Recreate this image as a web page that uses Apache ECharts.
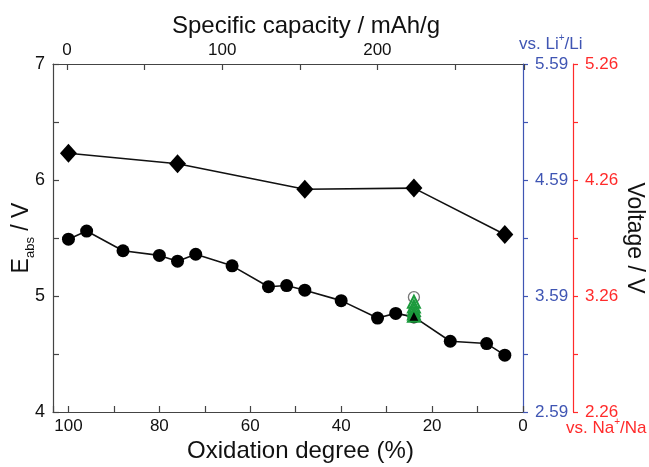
<!DOCTYPE html>
<html>
<head>
<meta charset="utf-8">
<script src="https://cdn.jsdelivr.net/npm/echarts@6/dist/echarts.min.js"></script>
<style>
  html, body { margin: 0; padding: 0; background: #fff; }
  #chart { width: 649px; height: 467px; }
</style>
</head>
<body>
<div id="chart"></div>
<script>
// Diamond series: absolute potential vs oxidation degree
const oxDiamond = [100, 76, 48, 24, 4];
const eDiamond = [6.23, 6.14, 5.92, 5.93, 5.53];

// Circle series
const oxCircle = [100, 96, 88, 80, 76, 72, 64, 56, 52, 48, 40, 32, 28, 24, 16, 8, 4];
const eCircle = [5.49, 5.56, 5.39, 5.35, 5.30, 5.36, 5.26, 5.08, 5.09, 5.05, 4.96, 4.81, 4.85, 4.82, 4.61, 4.59, 4.49];

// Extra measurements at 24 % oxidation
const oxExtra = 24;
const eOpenCircle = [4.99];
const eGreenTriangles = [4.95, 4.91, 4.88, 4.85];
const eFilledTriangle = [4.83];

// Axis ranges and label values
const oxRange = [0, 103.4];
const capRange = [0, 294.5];
const eRange = [4, 7];
const liOffset = 1.41;   // E_abs - V(vs. Li+/Li)
const naOffset = 1.74;   // E_abs - V(vs. Na+/Na)

const FONT = 'Liberation Sans, Arial, Helvetica, sans-serif';
const INK = '#111';
const FRAME = '#444';
const BLUE = '#3f55b3';
const RED = '#ff2b2b';
const GREEN = '#1b9a3c';

const pairs = (xs, ys) => xs.map((x, i) => [x, ys[i]]);
const at = (x, ys) => ys.map(y => [x, y]);

const chart = echarts.init(document.getElementById('chart'), null, { renderer: 'canvas' });

chart.setOption({
  animation: false,
  backgroundColor: '#fff',
  grid: [
    { left: 53, right: 126, top: 64, bottom: 55, containLabel: false, outerBoundsMode: 'none' },
    { left: 67, right: 125, top: 64, bottom: 55, containLabel: false, outerBoundsMode: 'none' }
  ],
  xAxis: [
    {
      gridIndex: 0, type: 'value', position: 'bottom',
      min: oxRange[0], max: oxRange[1], interval: 10, inverse: true,
      axisLine: { onZero: false, lineStyle: { color: FRAME, width: 1.2 } },
      axisTick: { inside: true, length: 6, lineStyle: { color: FRAME, width: 1.2 } },
      axisLabel: {
        color: INK, fontSize: 17, fontFamily: FONT, margin: 6,
        formatter: v => (v % 20 === 0 && v <= 100) ? String(v) : ''
      },
      splitLine: { show: false },
      name: 'Oxidation degree (%)', nameLocation: 'middle', nameGap: 27,
      nameMoveOverlap: false,
      nameTextStyle: { color: INK, fontSize: 24, fontFamily: FONT, padding: [0, 0, 0, 25] }
    },
    {
      gridIndex: 0, type: 'value', position: 'top', min: 0, max: 1,
      axisLine: { show: true, onZero: false, lineStyle: { color: FRAME, width: 1.2 } },
      axisTick: { show: false }, axisLabel: { show: false }, splitLine: { show: false }
    },
    {
      gridIndex: 1, type: 'value', position: 'top',
      min: capRange[0], max: capRange[1], interval: 50,
      axisLine: { show: false, onZero: false },
      axisTick: { inside: true, length: 6, lineStyle: { color: FRAME, width: 1.2 } },
      axisLabel: {
        color: INK, fontSize: 17, fontFamily: FONT, margin: 5,
        formatter: v => (v % 100 === 0) ? String(v) : ''
      },
      splitLine: { show: false }
    }
  ],
  yAxis: [
    {
      gridIndex: 0, type: 'value', position: 'left',
      min: eRange[0], max: eRange[1], interval: 0.5,
      axisLine: { show: true, onZero: false, lineStyle: { color: FRAME, width: 1.2 } },
      axisTick: { show: true, inside: true, length: 6, lineStyle: { color: FRAME, width: 1.2 } },
      axisLabel: {
        color: INK, fontSize: 18, fontFamily: FONT, margin: 8,
        formatter: v => Number.isInteger(v) ? String(v) : ''
      },
      splitLine: { show: false },
      name: '{e|E}{s|abs}{e| / V}', nameLocation: 'middle', nameGap: 16,
      nameMoveOverlap: false,
      nameTextStyle: {
        rich: {
          e: { fontSize: 23, fontFamily: FONT, color: INK, lineHeight: 30, verticalAlign: 'middle' },
          s: { fontSize: 13, fontFamily: FONT, color: INK, lineHeight: 30, verticalAlign: 'bottom' }
        }
      }
    },
    {
      gridIndex: 0, type: 'value', position: 'right', offset: 0,
      min: eRange[0], max: eRange[1], interval: 0.5,
      axisLine: { show: true, onZero: false, lineStyle: { color: BLUE, width: 1.2 } },
      axisTick: { show: true, inside: false, length: 5, lineStyle: { color: BLUE, width: 1.2 } },
      axisLabel: {
        color: BLUE, fontSize: 17, fontFamily: FONT, margin: 12,
        formatter: v => Number.isInteger(v) ? (v - liOffset).toFixed(2) : ''
      },
      splitLine: { show: false }
    },
    {
      gridIndex: 0, type: 'value', position: 'right', offset: 50,
      min: eRange[0], max: eRange[1], interval: 0.5,
      axisLine: { show: true, onZero: false, lineStyle: { color: RED, width: 1.2 } },
      axisTick: { show: true, inside: false, length: 5, lineStyle: { color: RED, width: 1.2 } },
      axisLabel: {
        color: RED, fontSize: 17, fontFamily: FONT, margin: 12,
        formatter: v => Number.isInteger(v) ? (v - naOffset).toFixed(2) : ''
      },
      splitLine: { show: false },
      name: 'Voltage / V', nameLocation: 'middle', nameGap: 50, nameRotate: -90,
      nameMoveOverlap: false,
      nameTextStyle: { color: INK, fontSize: 23, fontFamily: FONT }
    },
    {
      gridIndex: 1, type: 'value', show: false, min: 0, max: 1
    }
  ],
  graphic: [
    {
      type: 'text', left: 172, top: 14,
      style: {
        text: 'Specific capacity / mAh/g', fill: INK, fontSize: 24, fontFamily: FONT
      }
    },
    {
      type: 'text', left: 519, top: 33,
      style: {
        text: '{a|vs. Li}{p|+}{a|/Li}',
        rich: {
          a: { fill: BLUE, fontSize: 17, fontFamily: FONT, lineHeight: 20, verticalAlign: 'bottom' },
          p: { fill: BLUE, fontSize: 10, fontFamily: FONT, lineHeight: 20, verticalAlign: 'top' }
        }
      }
    },
    {
      type: 'text', left: 566, top: 417,
      style: {
        text: '{a|vs. Na}{p|+}{a|/Na}',
        rich: {
          a: { fill: RED, fontSize: 17, fontFamily: FONT, lineHeight: 20, verticalAlign: 'bottom' },
          p: { fill: RED, fontSize: 10, fontFamily: FONT, lineHeight: 20, verticalAlign: 'top' }
        }
      }
    }
  ],
  series: [
    {
      type: 'line', xAxisIndex: 0, yAxisIndex: 0,
      data: pairs(oxDiamond, eDiamond),
      symbol: 'diamond', symbolSize: [17, 19],
      lineStyle: { color: INK, width: 1.6 },
      itemStyle: { color: '#000' }
    },
    {
      type: 'line', xAxisIndex: 0, yAxisIndex: 0,
      data: pairs(oxCircle, eCircle),
      symbol: 'circle', symbolSize: 13,
      lineStyle: { color: INK, width: 1.6 },
      itemStyle: { color: '#000' }
    },
    {
      type: 'scatter', xAxisIndex: 0, yAxisIndex: 0, z: 3,
      data: at(oxExtra, eOpenCircle),
      symbol: 'circle', symbolSize: 11,
      itemStyle: { color: '#fff', borderColor: '#555', borderWidth: 1.3 }
    },
    {
      type: 'scatter', xAxisIndex: 0, yAxisIndex: 0, z: 4,
      data: at(oxExtra, eGreenTriangles),
      symbol: 'triangle', symbolSize: 12,
      itemStyle: { color: 'rgba(255,255,255,0)', borderColor: GREEN, borderWidth: 2, opacity: 1 }
    },
    {
      type: 'scatter', xAxisIndex: 0, yAxisIndex: 0, z: 5,
      data: at(oxExtra, eFilledTriangle),
      symbol: 'triangle', symbolSize: 12,
      itemStyle: { color: '#000', borderColor: GREEN, borderWidth: 2, opacity: 1 }
    }
  ]
});
</script>
</body>
</html>
